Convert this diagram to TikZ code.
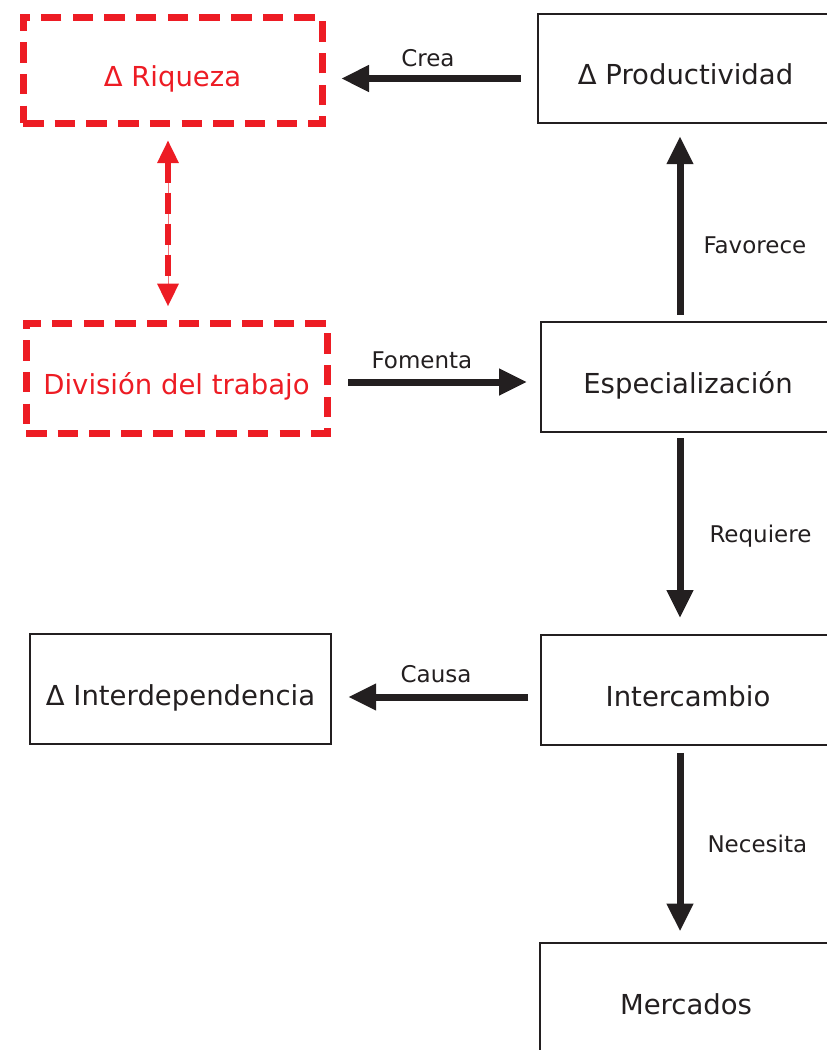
\documentclass[tikz,border=0pt]{standalone}
\usepackage{fontspec}
\setmainfont{DejaVu Sans}
\usetikzlibrary{arrows.meta,positioning}
\definecolor{ink}{HTML}{231F20}
\definecolor{redc}{HTML}{ED1C24}

\begin{document}
\begin{tikzpicture}[
    x=1pt, y=-1pt,
    box/.style={rectangle, draw=ink, line width=2.6pt, text=ink, minimum width=294pt, minimum height=110pt, font=\fontsize{27.5}{33}\selectfont, text height=32pt, text depth=0pt},
    redbox/.style={box, draw=redc, text=redc, line width=7pt, dash pattern=on 20.5pt off 11.2pt},
    arrow/.style={-{Triangle[length=28pt,width=25pt]}, draw=ink, line width=7pt},
    redarrow/.style={{Triangle[length=23pt,width=20pt]}-{Triangle[length=23pt,width=20pt]}, draw=redc, line width=6.7pt, dash pattern=on 21pt off 10pt},
    tag/.style={text=ink, inner sep=0pt, font=\fontsize{23}{28}\selectfont, text height=16.8pt, text depth=0pt}
]
\useasboundingbox (0,0) rectangle (827,1050);
\clip (0,0) rectangle (827,1050);

\node[redbox, minimum width=299pt, minimum height=106pt] (riq) at (172.5,70) {Δ Riqueza};
\node[redbox, minimum width=301pt] (div) at (176.5,378) {División del trabajo};

\node[box, minimum width=295pt, minimum height=109pt] (prod) at (685.5,68.5) {Δ Productividad};
\node[box] (espec) at (688,377) {Especialización};
\node[box] (inter) at (688,690) {Intercambio};
\node[box, minimum width=292pt] (merc) at (686,998) {Mercados};
\node[box, minimum width=301pt] (interdep) at (180.5,689) {Δ Interdependencia};

\draw[arrow, shorten <=15.9pt, shorten >=15.5pt] ([yshift=-10pt]prod.west) -- node[tag, above=9pt, pos=0.515] {Crea} ([yshift=-10pt]prod.west -| riq.east);
\draw[arrow, shorten <=17.5pt, shorten >=12.5pt] ([yshift=-4pt]div.east) -- node[tag, above=10.5pt, pos=0.437] {Fomenta} ([yshift=-4pt]div.east -| espec.west);
\draw[arrow, shorten <=5.9pt, shorten >=11.9pt] ([xshift=-8pt]espec.north) -- node[tag, right=20pt, pos=0.386] {Favorece} ([xshift=-8pt]espec.north |- prod.south);
\draw[arrow, shorten <=4.9pt, shorten >=15.6pt] ([xshift=-8pt]espec.south) -- node[tag, right=26pt, pos=0.502] {Requiere} ([xshift=-8pt]espec.south |- inter.north);
\draw[arrow, shorten <=6.6pt, shorten >=10.2pt] ([xshift=-8pt]inter.south) -- node[tag, right=24pt, midway] {Necesita} ([xshift=-8pt]inter.south |- merc.north);
\draw[arrow, shorten <=11.3pt, shorten >=15.9pt] ([yshift=-7pt]inter.west) -- node[tag, above=11.5pt, midway] {Causa} ([yshift=-7pt]inter.west -| interdep.east);

\draw[redc!60, line width=1pt, shorten <=30pt, shorten >=30pt] ([xshift=-4.5pt]riq.south) -- ([xshift=-4.5pt]riq.south |- div.north);
\draw[redarrow, shorten <=13.5pt, shorten >=12.8pt] ([xshift=-4.5pt]riq.south) -- ([xshift=-4.5pt]riq.south |- div.north);

\end{tikzpicture}
\end{document}
